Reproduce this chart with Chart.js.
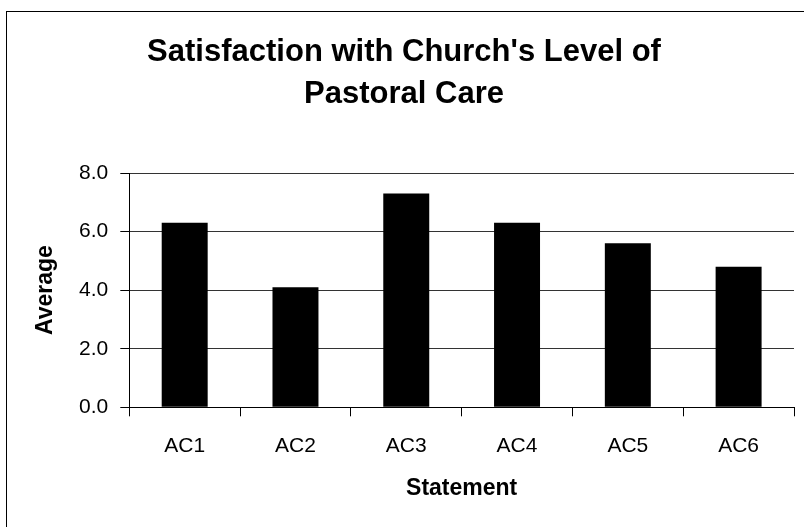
<!DOCTYPE html>
<html>
<head>
<meta charset="utf-8">
<title>Satisfaction with Church's Level of Pastoral Care</title>
<script src="https://cdn.jsdelivr.net/npm/chart.js@4.4.1/dist/chart.umd.min.js"></script>
<style>
  html, body { margin: 0; padding: 0; background: #fff; }
  #wrap { position: relative; width: 804px; height: 527px; overflow: hidden; }
  /* outer chart frame, only its top/left edges fall inside the page */
  #frame {
    position: absolute; left: 6px; top: 11px; width: 830px; height: 560px;
    border-left: 1px solid #000; border-top: 1px solid #000;
  }
  #chartBar { position: absolute; left: 0; top: 0; }
</style>
</head>
<body>
<div id="wrap">
  <div id="frame"></div>
  <canvas id="chartBar" width="804" height="527"></canvas>
</div>
<script>
  /* ── Data ─────────────────────────────────────────────────────────── */
  const STATEMENTS = ['AC1', 'AC2', 'AC3', 'AC4', 'AC5', 'AC6'];
  const AVERAGES   = [6.3, 4.1, 7.3, 6.3, 5.6, 4.8];
  const Y_TICKS    = [0, 2, 4, 6, 8];

  const TITLE_LINES = ["Satisfaction with Church's Level of", 'Pastoral Care'];

  /* ── Chart ────────────────────────────────────────────────────────── */
  (function () {
    'use strict';

    const FONT = '"Liberation Sans", Arial, Helvetica, sans-serif';
    Chart.defaults.font.family = FONT;
    Chart.defaults.color = '#000';

    const canvas = document.getElementById('chartBar');

    new Chart(canvas.getContext('2d'), {
      type: 'bar',
      data: {
        labels: STATEMENTS,
        datasets: [{
          label: 'Average',
          data: AVERAGES,
          backgroundColor: '#000',
          borderWidth: 0,
          barPercentage: 0.415,
          categoryPercentage: 1.0,
        }],
      },
      options: {
        responsive: false,
        animation: false,
        devicePixelRatio: 1,
        layout: { padding: { left: 14, right: 10, top: 0, bottom: 0 } },
        plugins: {
          legend: { display: false },
          tooltip: { enabled: false },
          title: {
            display: true,
            text: TITLE_LINES,
            color: '#000',
            font: { size: 31, weight: 'bold', lineHeight: 42 / 31 },
            padding: { top: 31, bottom: 58 },
          },
        },
        scales: {
          x: {
            grid: {
              display: true,
              drawOnChartArea: false,
              offset: true,
              tickLength: 9,
              color: '#000',
            },
            border: { display: true, color: '#000', width: 1 },
            ticks: { font: { size: 21 }, padding: 17, color: '#000' },
            title: {
              display: true,
              text: 'Statement',
              color: '#000',
              font: { size: 23, weight: 'bold' },
              padding: { top: 0, bottom: 25 },
            },
            afterFit: axis => { axis.height = 119.7; },
          },
          y: {
            min: 0,
            max: 8,
            afterBuildTicks: axis => {
              axis.ticks = Y_TICKS.map(v => ({ value: v }));
            },
            grid: {
              color: '#333',
              tickColor: '#000',
              tickLength: 9,
              lineWidth: 1,
            },
            border: { display: true, color: '#000', width: 1 },
            ticks: {
              font: { size: 21 },
              padding: 12,
              color: '#000',
              callback: v => Number(v).toFixed(1),
            },
            title: {
              display: true,
              text: 'Average',
              color: '#000',
              font: { size: 23, weight: 'bold' },
              padding: { top: 18, bottom: 0 },
            },
            afterFit: axis => { axis.width = 115.3; },
          },
        },
      },
    });
  })();
</script>
</body>
</html>
